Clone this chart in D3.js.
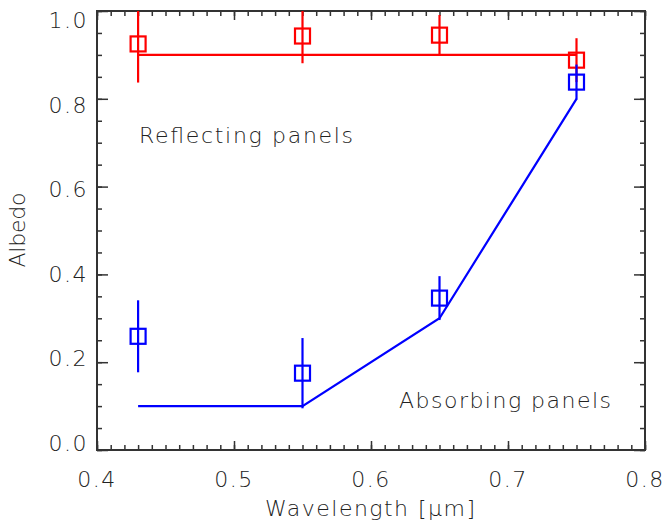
<!DOCTYPE html>
<html>
<head>
<meta charset="utf-8">
<script src="https://cdn.jsdelivr.net/npm/d3@7"></script>
<style>
  body { margin: 0; background: #fff; }
  text { font-family: "DejaVu Sans", sans-serif; font-weight: 200; fill: #222; }
</style>
</head>
<body>
<svg width="667" height="525"></svg>
<script>
// wavelengths of the four filters
var wavelength = [0.43, 0.55, 0.65, 0.75];

// reflecting panels
var reflAlbedo = [0.925, 0.943, 0.945, 0.888];
var reflErr = [0.088, 0.062, 0.046, 0.050];
var reflModel = [0.90, 0.90, 0.90, 0.90];

// absorbing panels
var absAlbedo = [0.259, 0.175, 0.346, 0.838];
var absErr = [0.082, 0.080, 0.050, 0.040];
var absModel = [0.10, 0.10, 0.30, 0.80];

var xTicks = [0.4, 0.5, 0.6, 0.7, 0.8];
var yTicks = [0.0, 0.2, 0.4, 0.6, 0.8, 1.0];

var margin = {left: 97, top: 11, right: 22, bottom: 75};
var width = 667, height = 525;

var x = d3.scaleLinear().domain([0.4, 0.8]).range([margin.left, width - margin.right]);
var y = d3.scaleLinear().domain([0, 1]).range([height - margin.bottom, margin.top]);
// IDL squeezes the y labels slightly inside the frame
var yLab = d3.scaleLinear().domain([0, 1]).range([443, 20]);

var svg = d3.select("svg");

svg.append("defs").append("clipPath").attr("id", "clip")
  .append("rect")
    .attr("x", x(0.4)).attr("y", y(1))
    .attr("width", x(0.8) - x(0.4)).attr("height", y(0) - y(1));

// ticks only, drawn inside the frame
function addTicks(axisGen, transform) {
  var g = svg.append("g").attr("transform", transform);
  g.call(axisGen);
  g.select(".domain").remove();
  g.selectAll("line").attr("stroke", "#333").attr("stroke-width", 1.5);
  g.selectAll("text").remove();
  return g;
}

var xMinor = d3.range(0, 41).map(i => 0.4 + i * 0.01);
var yMinor = d3.range(0, 21).map(i => i * 0.05);

addTicks(d3.axisTop(x).tickValues(xMinor).tickSize(5), `translate(0,${y(0)})`);
addTicks(d3.axisTop(x).tickValues(xTicks).tickSize(9), `translate(0,${y(0)})`);
addTicks(d3.axisBottom(x).tickValues(xMinor).tickSize(5), `translate(0,${y(1)})`);
addTicks(d3.axisBottom(x).tickValues(xTicks).tickSize(9), `translate(0,${y(1)})`);
addTicks(d3.axisRight(y).tickValues(yMinor).tickSize(5), `translate(${x(0.4)},0)`);
addTicks(d3.axisRight(y).tickValues(yTicks).tickSize(11), `translate(${x(0.4)},0)`);
addTicks(d3.axisLeft(y).tickValues(yMinor).tickSize(5), `translate(${x(0.8)},0)`);
addTicks(d3.axisLeft(y).tickValues(yTicks).tickSize(11), `translate(${x(0.8)},0)`);

// tick labels
svg.append("g").selectAll("text")
  .data(xTicks)
  .join("text")
    .attr("x", d => x(d)).attr("y", 487)
    .attr("text-anchor", "middle")
    .attr("font-size", 22).attr("letter-spacing", 1.5)
    .text(d3.format(".1f"));

svg.append("g").selectAll("text")
  .data(yTicks)
  .join("text")
    .attr("x", 88).attr("y", d => yLab(d)).attr("dy", "0.36em")
    .attr("text-anchor", "end")
    .attr("font-size", 22).attr("letter-spacing", 1.5)
    .text(d3.format(".1f"));

// frame
svg.append("rect")
  .attr("x", x(0.4)).attr("y", y(1))
  .attr("width", x(0.8) - x(0.4)).attr("height", y(0) - y(1))
  .attr("fill", "none").attr("stroke", "#333").attr("stroke-width", 2);

var plot = svg.append("g").attr("clip-path", "url(#clip)");

function drawSeries(vals, errs, model, color) {
  var line = d3.line().x((d, i) => x(wavelength[i])).y(d => y(d));
  plot.append("path")
    .datum(model)
    .attr("d", line)
    .attr("fill", "none").attr("stroke", color).attr("stroke-width", 2.2);

  plot.selectAll(null)
    .data(vals)
    .join("line")
      .attr("x1", (d, i) => x(wavelength[i])).attr("x2", (d, i) => x(wavelength[i]))
      .attr("y1", (d, i) => y(d + errs[i])).attr("y2", (d, i) => y(d - errs[i]))
      .attr("stroke", color).attr("stroke-width", 2.2);

  plot.selectAll(null)
    .data(vals)
    .join("rect")
      .attr("x", (d, i) => x(wavelength[i]) - 7.5)
      .attr("y", d => y(d) - 7.5)
      .attr("width", 15).attr("height", 15)
      .attr("fill", "none").attr("stroke", color).attr("stroke-width", 2.2);
}

drawSeries(reflAlbedo, reflErr, reflModel, "#ff0000");
drawSeries(absAlbedo, absErr, absModel, "#0000ff");

// annotations
svg.append("text")
  .attr("x", 139).attr("y", 143)
  .attr("font-size", 22)
  .attr("textLength", 214).attr("lengthAdjust", "spacing")
  .text("Reflecting panels");

svg.append("text")
  .attr("x", 399).attr("y", 408)
  .attr("font-size", 22)
  .attr("textLength", 212).attr("lengthAdjust", "spacing")
  .text("Absorbing panels");

// axis titles
svg.append("text")
  .attr("x", 265).attr("y", 516)
  .attr("font-size", 22)
  .attr("textLength", 210).attr("lengthAdjust", "spacing")
  .text("Wavelength [\u03bcm]");

svg.append("text")
  .attr("transform", "translate(25,230) rotate(-90)")
  .attr("text-anchor", "middle")
  .attr("font-size", 22)
  .attr("textLength", 75).attr("lengthAdjust", "spacing")
  .text("Albedo");
</script>
</body>
</html>
